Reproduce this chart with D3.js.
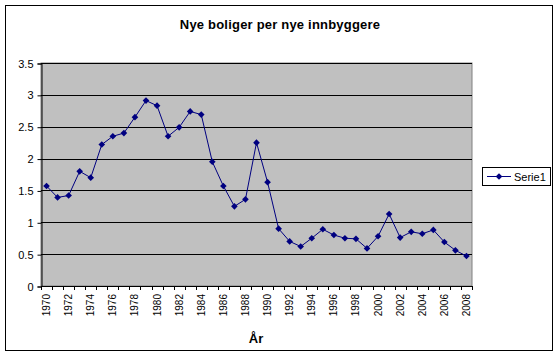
<!DOCTYPE html>
<html>
<head>
<meta charset="utf-8">
<script src="https://cdn.jsdelivr.net/npm/d3@7"></script>
<style>
  body { margin: 0; background: #fff; }
  svg { display: block; font-family: "Liberation Sans", Arial, sans-serif; }
</style>
</head>
<body>
<svg id="chart" width="559" height="357"></svg>
<script>
var years = [];
for (var yr = 1970; yr <= 2008; yr++) years.push(yr);
var values = [1.57, 1.39, 1.42, 1.80, 1.70, 2.22, 2.35, 2.40, 2.65, 2.91,
              2.83, 2.35, 2.49, 2.74, 2.69, 1.95, 1.57, 1.25, 1.36, 2.25,
              1.63, 0.90, 0.70, 0.62, 0.75, 0.89, 0.80, 0.75, 0.74, 0.59,
              0.78, 1.13, 0.76, 0.85, 0.82, 0.88, 0.69, 0.56, 0.47];
var yTicks = [0, 0.5, 1, 1.5, 2, 2.5, 3, 3.5];
var title = "Nye boliger per nye innbyggere";
var seriesName = "Serie1";
var xTitle = "År";

var plot = {left: 41, top: 63, right: 472, bottom: 286};
var navy = "#000080";

var svg = d3.select("#chart");

// outer frame
svg.append("rect")
    .attr("x", 5.5).attr("y", 5.5)
    .attr("width", 547).attr("height", 345)
    .attr("fill", "#fff").attr("stroke", "#000").attr("stroke-width", 1);

var x = d3.scaleBand()
    .domain(years)
    .range([plot.left, plot.right])
    .padding(0);

var y = d3.scaleLinear()
    .domain([0, 3.5])
    .range([plot.bottom, plot.top]);

// plot area
svg.append("rect")
    .attr("x", plot.left).attr("y", plot.top)
    .attr("width", plot.right - plot.left).attr("height", plot.bottom - plot.top)
    .attr("fill", "#c0c0c0").attr("stroke", "#808080").attr("stroke-width", 1);

// gridlines
svg.append("g").selectAll("line")
    .data(yTicks.slice(1))
    .enter().append("line")
    .attr("x1", plot.left).attr("x2", plot.right)
    .attr("y1", function(d) { return Math.round(y(d)) + 0.5; })
    .attr("y2", function(d) { return Math.round(y(d)) + 0.5; })
    .attr("stroke", "#000");

// y axis
var yAxis = svg.append("g")
    .attr("transform", "translate(" + (plot.left + 0.5) + ",0.5)")
    .call(d3.axisLeft(y).tickValues(yTicks).tickSize(4).tickPadding(4)
        .tickFormat(function(d) { return String(d); }));
yAxis.select(".domain").attr("stroke", "#000");
yAxis.selectAll("text").style("font-size", "11px").style("font-family", "Liberation Sans, Arial, sans-serif").attr("fill", "#000");

// x axis line
svg.append("line")
    .attr("x1", plot.left).attr("x2", plot.right)
    .attr("y1", plot.bottom + 0.5).attr("y2", plot.bottom + 0.5)
    .attr("stroke", "#000");

// x boundary ticks
var bounds = years.map(function(d) { return x(d); }).concat([plot.right]);
svg.append("g").selectAll("line")
    .data(bounds)
    .enter().append("line")
    .attr("x1", function(d) { return Math.round(d) + 0.5; })
    .attr("x2", function(d) { return Math.round(d) + 0.5; })
    .attr("y1", plot.bottom).attr("y2", plot.bottom + 4)
    .attr("stroke", "#000");

// x labels (every other year, rotated)
svg.append("g").selectAll("text")
    .data(years.filter(function(d, i) { return i % 2 === 0; }))
    .enter().append("text")
    .attr("transform", function(d) {
        return "translate(" + (x(d) + x.bandwidth() / 2 + 3.5) + "," + (plot.bottom + 8) + ") rotate(-90)";
    })
    .attr("text-anchor", "end")
    .style("font-size", "10px")
    .text(function(d) { return d; });

// line
var line = d3.line()
    .x(function(d, i) { return x(years[i]) + x.bandwidth() / 2; })
    .y(function(d) { return y(d); });

svg.append("path")
    .datum(values)
    .attr("d", line)
    .attr("fill", "none")
    .attr("stroke", navy)
    .attr("stroke-width", 1);

var diamond = d3.symbol().type(d3.symbolDiamond2).size(28);
svg.append("g").selectAll("path")
    .data(values)
    .enter().append("path")
    .attr("d", diamond)
    .attr("transform", function(d, i) {
        return "translate(" + (x(years[i]) + x.bandwidth() / 2) + "," + y(d) + ")";
    })
    .attr("fill", navy);

// title
svg.append("text")
    .attr("x", 280).attr("y", 29)
    .attr("text-anchor", "middle")
    .style("font-size", "13px").style("font-weight", "bold")
    .style("letter-spacing", "0.2px")
    .text(title);

// x title
svg.append("text")
    .attr("x", 256).attr("y", 343)
    .attr("text-anchor", "middle")
    .style("font-size", "13px").style("font-weight", "bold")
    .text(xTitle);

// legend
var lg = svg.append("g");
lg.append("rect")
    .attr("x", 482.5).attr("y", 167.5)
    .attr("width", 68).attr("height", 18)
    .attr("fill", "#fff").attr("stroke", "#000");
lg.append("line")
    .attr("x1", 487).attr("x2", 511)
    .attr("y1", 176.5).attr("y2", 176.5)
    .attr("stroke", navy);
lg.append("path")
    .attr("d", diamond)
    .attr("transform", "translate(499,176.5)")
    .attr("fill", navy);
lg.append("text")
    .attr("x", 514).attr("y", 180.5)
    .style("font-size", "11px")
    .text(seriesName);
</script>
</body>
</html>
